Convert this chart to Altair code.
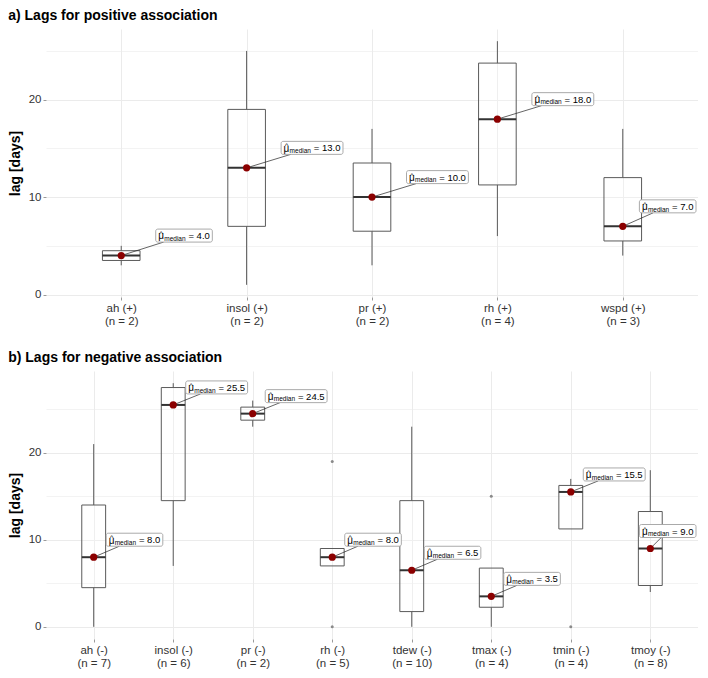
import json
import altair as alt
import pandas as pd

# ---------------- data ----------------
# a) positive association
pos_vars = ["ah (+)", "insol (+)", "pr (+)", "rh (+)", "wspd (+)"]
pos_n = [2, 2, 2, 4, 3]
pos_low = [3, 1, 3, 6, 4]
pos_q1 = [3.5, 7, 6.5, 11.25, 5.5]
pos_med = [4, 13, 10, 18, 7]
pos_q3 = [4.5, 19, 13.5, 23.75, 12]
pos_high = [5, 25, 17, 26, 17]
pos_out_var = []
pos_out_val = []

# b) negative association
neg_vars = ["ah (-)", "insol (-)", "pr (-)", "rh (-)", "tdew (-)", "tmax (-)", "tmin (-)", "tmoy (-)"]
neg_n = [7, 6, 2, 5, 10, 4, 4, 8]
neg_low = [0, 7, 23, 7, 0, 0, 15, 4]
neg_q1 = [4.5, 14.5, 23.75, 7, 1.75, 2.25, 11.25, 4.75]
neg_med = [8, 25.5, 24.5, 8, 6.5, 3.5, 15.5, 9]
neg_q3 = [14, 27.5, 25.25, 9, 14.5, 6.75, 16.25, 13.25]
neg_high = [21, 28, 26, 9, 23, 4, 17, 18]
neg_out_var = ["rh (-)", "rh (-)", "tmax (-)", "tmin (-)"]
neg_out_val = [19, 0, 15, 0]

# ---------------- style / layout ----------------
FONT = "Liberation Sans"
W = 652
H = 268
RED = "#8B0000"
GRID = "#EBEBEB"

CW = {str(d): 556 for d in range(10)}
CW.update({".": 278, " ": 278, "=": 584, "-": 333})


def text_w(s, size):
    return sum(CW.get(c, 556) for c in s) * size / 1000.0


def panel(vars_, ns, low, q1, med, q3, high, out_var, out_val, title, dx_px, dy_px):
    n = len(vars_)
    idx = list(range(1, n + 1))
    allv = low + high + out_val
    lo, hi = min(allv), max(allv)
    ex = 0.05 * (hi - lo)
    ymin, ymax = lo - ex, hi + ex
    xmin, xmax = 0.4, n + 0.6
    ppx = W / (xmax - xmin)
    ppy = H / (ymax - ymin)

    box = pd.DataFrame({
        "i": idx, "var": vars_, "low": low, "q1": q1, "med": med, "q3": q3, "high": high,
    })
    box["wlo"] = [min(a, b) for a, b in zip(low, q1)]
    box["whi"] = [max(a, b) for a, b in zip(high, q3)]
    box["bl"] = box["i"] - 0.15
    box["br"] = box["i"] + 0.15

    outl = pd.DataFrame({"i": [vars_.index(v) + 1 for v in out_var], "val": out_val})

    # label boxes (ggrepel-like: offset, kept inside the panel)
    rows = []
    for i, m in zip(idx, med):
        txt = "= %.1f" % m
        lw = 8.5 + 21.5 + 2.7 + text_w(txt, 9.5) + 2.5
        lh = 13.0
        px = (i - xmin) * ppx
        py = (ymax - m) * ppy
        left = min(px + dx_px, W - 2 - lw)
        cy = max(py + dy_px, lh / 2 + 2)
        right = left + lw
        top, bot = cy - lh / 2, cy + lh / 2
        cx = left + lw / 2
        dxr, dyr = cx - px, cy - py
        ts = []
        if dxr > 0:
            ts.append((left - px) / dxr if px < left else float("-inf"))
        elif dxr < 0:
            ts.append((right - px) / dxr if px > right else float("-inf"))
        if dyr < 0:
            ts.append((bot - py) / dyr if py > bot else float("-inf"))
        elif dyr > 0:
            ts.append((top - py) / dyr if py < top else float("-inf"))
        t = max(ts) if ts else -1
        ex2 = px + t * dxr
        ey2 = py + t * dyr
        to_ux = lambda p: p / ppx + xmin
        to_uy = lambda p: ymax - p / ppy
        rows.append({
            "i": i, "med": m, "txt": txt,
            "bl": to_ux(left), "br": to_ux(right),
            "bt": to_uy(top), "bb": to_uy(bot), "cy": to_uy(cy),
            "sx2": to_ux(ex2), "sy2": to_uy(ey2), "seg": 1 if t > 0 else 0,
        })
    lab = pd.DataFrame(rows)

    label_arr = json.dumps([[v, "(n = %d)" % k] for v, k in zip(vars_, ns)])
    xaxis = alt.Axis(
        values=idx, grid=True, gridColor=GRID, gridWidth=1, domain=False,
        ticks=True, tickSize=3, tickColor="#9a9a9a",
        labelExpr=label_arr + "[datum.value - 1]",
        labelFont=FONT, labelFontSize=11.5, labelColor="#333333",
        labelLineHeight=13, labelPadding=2, title=None,
    )
    yvals = [v for v in range(0, 40, 5) if ymin <= v <= ymax]
    yaxis = alt.Axis(
        values=yvals, grid=True, gridColor=GRID,
        gridWidth={"condition": {"test": "datum.value % 10 !== 0", "value": 0.6}, "value": 1},
        tickOpacity={"condition": {"test": "datum.value % 10 === 0", "value": 1}, "value": 0},
        domain=False, ticks=True, tickSize=3, tickColor="#9a9a9a",
        labelExpr="datum.value % 10 === 0 ? datum.label : ''",
        labelFont=FONT, labelFontSize=11.5, labelColor="#333333", labelPadding=2,
        title="lag [days]", titleFont=FONT, titleFontSize=14, titleFontWeight="bold",
        titleColor="black", titlePadding=6,
    )
    xs = alt.Scale(domain=[xmin, xmax], nice=False, zero=False)
    ys = alt.Scale(domain=[ymin, ymax], nice=False, zero=False)

    def X(f):
        return alt.X(f, type="quantitative", scale=xs, axis=xaxis)

    def Y(f):
        return alt.Y(f, type="quantitative", scale=ys, axis=yaxis)

    base_box = alt.Chart(box)
    whisk_lo = base_box.mark_rule(color="#595959", strokeWidth=1).encode(
        x=X("i"), y=Y("wlo"), y2="q1")
    whisk_hi = base_box.mark_rule(color="#595959", strokeWidth=1).encode(
        x=X("i"), y=Y("q3"), y2="whi")
    rect = base_box.mark_rect(fill="white", fillOpacity=0.2, stroke="#5a5a5a",
                              strokeWidth=1).encode(
        x=X("bl"), x2="br", y=Y("q1"), y2="q3")
    medline = base_box.mark_rule(color="#333333", strokeWidth=2).encode(
        x=X("bl"), x2="br", y=Y("med"))
    layers = [whisk_lo, whisk_hi, rect, medline]
    if len(outl):
        layers.append(alt.Chart(outl).mark_circle(size=9, color="#8a8a8a", opacity=1).encode(
            x=X("i"), y=Y("val")))
    base_lab = alt.Chart(lab)
    seg = base_lab.transform_filter("datum.seg > 0").mark_rule(
        color="#222222", strokeWidth=0.7).encode(
        x=X("i"), y=Y("med"), x2="sx2", y2="sy2")
    pt = base_box.mark_circle(size=52, color=RED, opacity=1).encode(x=X("i"), y=Y("med"))
    lbox = base_lab.mark_rect(fill="white", stroke="#a0a0a0", strokeWidth=0.9,
                              cornerRadius=2).encode(
        x=X("bl"), x2="br", y=Y("bt"), y2="bb")
    mu = base_lab.mark_text(text="\u03bc", align="left", baseline="alphabetic",
                            dx=2.5, dy=3.8, font=FONT, fontSize=10, color="black").encode(
        x=X("bl"), y=Y("cy"))
    hat = base_lab.mark_text(text="^", align="center", baseline="alphabetic",
                             dx=5.4, dy=0.5, font=FONT, fontSize=8, color="black",
                             fontWeight="normal").encode(
        x=X("bl"), y=Y("cy"))
    sub = base_lab.mark_text(text="median", align="left", baseline="alphabetic",
                             dx=8.5, dy=5.2, font=FONT, fontSize=6.5, color="black").encode(
        x=X("bl"), y=Y("cy"))
    val = base_lab.mark_text(align="left", baseline="alphabetic",
                             dx=32.7, dy=3.5, font=FONT, fontSize=9.5, color="black").encode(
        x=X("bl"), y=Y("cy"), text="txt:N")
    layers += [seg, pt, lbox, mu, hat, sub, val]

    return alt.layer(*layers).properties(
        width=W, height=H,
        title=alt.TitleParams(title, anchor="start", frame="bounds", font=FONT,
                              fontSize=14, fontWeight="bold", color="black", offset=6),
    )


top = panel(pos_vars, pos_n, pos_low, pos_q1, pos_med, pos_q3, pos_high,
            pos_out_var, pos_out_val, "a) Lags for positive association", 34.5, -20)
bottom = panel(neg_vars, neg_n, neg_low, neg_q1, neg_med, neg_q3, neg_high,
               neg_out_var, neg_out_val, "b) Lags for negative association", 12.5, -17.5)

chart = alt.vconcat(top, bottom, spacing=24).properties(
    padding={"left": 0, "top": 1, "right": 0, "bottom": 0},
    background="white",
).configure_view(stroke=None)

chart.save("out.html", embed_options={"renderer": "svg", "actions": False})
